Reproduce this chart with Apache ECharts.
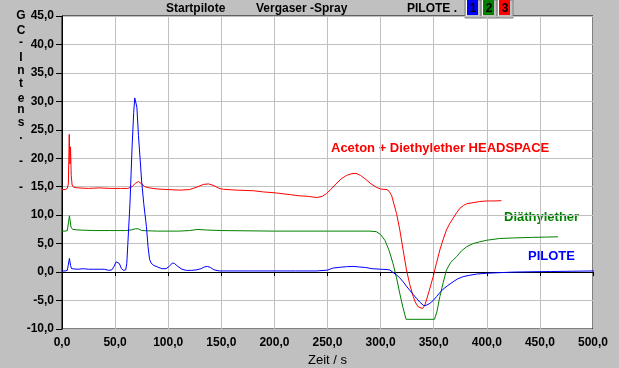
<!DOCTYPE html>
<html><head><meta charset="utf-8">
<script src="https://cdn.jsdelivr.net/npm/echarts@6/dist/echarts.min.js"></script>
<style>html,body{margin:0;padding:0;background:#c0c0c0;}#c{width:619px;height:368px;}</style>
</head><body><div id="c"></div>
<script>
// ---- data (time in s, GC intensity) ----
const xTicks = [0,50,100,150,200,250,300,350,400,450,500];
const yTicks = [-10,-5,0,5,10,15,20,25,30,35,40,45];
const seriesNames = ['PILOTE','Diäthylether','Aceton + Diethylether HEADSPACE'];
const pilote = [[0,0.2],[3,0.2],[5,0.3],[6,0.5],[7,2.4],[8,1.2],[9,0.6],[10,0.5],[15,0.5],[20,0.6],[25,0.5],[30,0.5],[35,0.5],[40,0.5],[44,0.3],[47,0.4],[49,1.0],[51,1.8],[52.5,2.1],[54,1.5],[56,0.6],[58,0.3],[60,0.4],[61,1.5],[62,5],[64,12],[66,22],[67.5,28],[68.5,30.6],[69.5,30.3],[70.5,29],[72,24],[73.5,20],[75,16],[77,12],[79.5,8],[81,4.5],[82.5,2.2],[84,1.6],[86,1.2],[90,0.9],[94,0.6],[98,0.6],[101,1.0],[104,1.6],[106,1.5],[109,1.0],[113,0.5],[117,0.3],[122,0.3],[127,0.4],[131,0.6],[134,0.9],[137,1.0],[140,0.8],[143,0.4],[148,0.2],[160,0.2],[180,0.2],[200,0.2],[220,0.2],[240,0.2],[250,0.35],[255,0.7],[262,0.85],[268,0.95],[274,1.0],[280,0.9],[286,0.8],[292,0.6],[300,0.5],[306,0.45],[308.7,0.36],[312,-0.1],[315,-0.5],[318,-1.0],[321.2,-1.7],[324,-2.4],[327.5,-3.2],[330.5,-3.9],[333.8,-4.6],[337,-5.3],[340.7,-5.9],[343.5,-5.8],[346.4,-5.5],[349.5,-5.0],[352.7,-4.3],[355.8,-3.6],[358.9,-3.0],[363,-2.4],[368.3,-1.7],[372.5,-1.2],[377.7,-0.8],[384,-0.55],[390.3,-0.35],[400,-0.2],[412,-0.1],[425,0.0],[440,0.05],[460,0.1],[480,0.15],[500,0.2],[516,0.25]];
const diaethylether = [[0,7.2],[3,7.2],[5,7.3],[6,7.6],[7,9.9],[7.8,8.8],[8.5,7.9],[10,7.5],[15,7.4],[30,7.3],[45,7.3],[60,7.3],[65,7.4],[69,7.6],[72,7.6],[75,7.3],[90,7.2],[110,7.2],[120,7.3],[128,7.5],[135,7.4],[150,7.3],[200,7.2],[250,7.2],[290,7.2],[296,7.1],[300,6.6],[304,5.6],[308,3.8],[311.7,1.5],[315,-1.0],[318,-3.7],[321,-6.2],[324,-8.3],[350.7,-8.3],[353,-7.0],[355.8,-4.3],[359,-1.8],[362,0.36],[366,1.7],[371.5,2.7],[376,3.7],[381,4.45],[387,5.0],[393,5.3],[400,5.6],[412,5.9],[425,6.0],[443,6.1],[455,6.15],[467,6.2]];
const headspace = [[0,14.5],[3,14.5],[5,14.7],[6,15.5],[6.8,24.2],[7.5,19],[8,22],[8.7,17],[9.5,15.3],[11,14.9],[15,14.8],[25,14.7],[35,14.8],[45,14.7],[55,14.7],[62,14.7],[66,15.0],[69,15.6],[72,15.9],[75,15.5],[78,15.0],[82,14.8],[90,14.6],[100,14.5],[111,14.4],[120,14.5],[128,15.0],[133,15.4],[138,15.5],[143,15.2],[148,14.7],[152,14.55],[165,14.4],[180,14.3],[189,14.1],[202,13.9],[215,13.6],[224,13.4],[232,13.3],[240,13.1],[245,13.3],[249,13.8],[253,14.5],[258,15.5],[263,16.4],[268,17.0],[273,17.3],[277,17.35],[281,17.0],[286,16.3],[291,15.5],[296,14.9],[300,14.6],[306,14.5],[308,14.2],[310.3,13.5],[315,10.3],[318.1,7.4],[321.2,3.9],[324.4,0.36],[327.5,-2.2],[330.7,-4.3],[333,-5.4],[335.4,-6.1],[339.5,-6.4],[341.5,-5.9],[343.2,-4.9],[346.5,-2.8],[349.5,-0.8],[352.5,1.5],[355.8,3.9],[359,5.8],[362,7.4],[365,8.5],[368.3,9.45],[371.5,10.4],[374.6,11.2],[378,11.7],[381,12.0],[387,12.2],[393.4,12.4],[400,12.5],[407,12.5],[413.8,12.55]];
const headerTexts = ['Startpilote','Vergaser -Spray','PILOTE .'];
const yTitleChars = ['G','C','-','I','n','t','e','n','s','.','-','-'];

const FONT = 'Liberation Sans, Arial, sans-serif';
const fmt = v => v.toFixed(1).replace('.', ',');
const chart = echarts.init(document.getElementById('c'), null, {renderer:'canvas'});

const yTitleY = [16,31,43,58,71,84,99,110,123,136,162,188];
const graphics = [];
yTitleChars.forEach((ch,i)=>graphics.push({type:'text',x:21,y:yTitleY[i],style:{text:ch,font:'bold 12px '+FONT,fill:'#000',textAlign:'center',textVerticalAlign:'middle'}}));
const hx=[166,256,407];
headerTexts.forEach((t,i)=>graphics.push({type:'text',x:hx[i],y:9,style:{text:t,font:'bold 12px '+FONT,fill:'#000',textVerticalAlign:'middle'}}));
// buttons
const btn=[{x:465,c:'#0000ff',t:'1'},{x:481,c:'#008000',t:'2'},{x:497,c:'#ff0000',t:'3'}];
btn.forEach(b=>{
  graphics.push({type:'rect',shape:{x:b.x,y:0,width:16,height:18},style:{fill:'#c0c0c0',stroke:'#808080',lineWidth:1}});
  graphics.push({type:'line',shape:{x1:b.x+1.5,y1:0,x2:b.x+1.5,y2:17},style:{stroke:'#ffffff',lineWidth:1}});
  graphics.push({type:'rect',shape:{x:b.x+2,y:0,width:11,height:15},style:{fill:b.c}});
  graphics.push({type:'text',x:b.x+8,y:9,style:{text:b.t,font:'bold 12px '+FONT,fill:'#000',textAlign:'center',textVerticalAlign:'middle'}});
});
graphics.push({type:'text',x:331,y:148,style:{text:'Aceton + Diethylether HEADSPACE',font:'bold 13px '+FONT,fill:'#ff0000',textVerticalAlign:'middle'}});
graphics.push({type:'text',x:504,y:217,style:{text:'Diäthylether',font:'bold 13px '+FONT,fill:'#008000',textVerticalAlign:'middle'}});
graphics.push({type:'text',x:528,y:256,style:{text:'PILOTE',font:'bold 13px '+FONT,fill:'#0000ff',textVerticalAlign:'middle'}});

const mk=(name,data,color)=>({name,type:'line',data,showSymbol:false,symbol:'none',clip:false,animation:false,lineStyle:{color,width:1},itemStyle:{color}});

chart.setOption({
  backgroundColor:'#c0c0c0',
  animation:false,
  grid:{left:62,top:16,width:531,height:313,containLabel:false,outerBoundsMode:'none',show:true,backgroundColor:'#ffffff',borderColor:'#000',borderWidth:1},
  xAxis:{type:'value',min:xTicks[0],max:xTicks[xTicks.length-1],interval:50,
    name:'Zeit / s',nameLocation:'middle',nameGap:24,nameTextStyle:{color:'#000',fontSize:13,fontFamily:FONT},
    axisLine:{show:true,lineStyle:{color:'#000',width:1}},
    axisTick:{show:true,length:4,lineStyle:{color:'#000'}},
    axisLabel:{formatter:fmt,color:'#000',fontWeight:'bold',fontSize:12,fontFamily:FONT,margin:8},
    splitLine:{show:true,lineStyle:{color:'#c0c0c0',width:1}}},
  yAxis:{type:'value',min:yTicks[0],max:yTicks[yTicks.length-1],interval:5,
    axisLine:{show:true,lineStyle:{color:'#000',width:1}},
    axisTick:{show:true,length:6,lineStyle:{color:'#000'}},
    axisLabel:{formatter:fmt,color:'#000',fontWeight:'bold',fontSize:12,fontFamily:FONT,margin:8},
    splitLine:{show:true,lineStyle:{color:'#c0c0c0',width:1}}},
  series:[mk(seriesNames[2],headspace,'#ff0000'),mk(seriesNames[1],diaethylether,'#008000'),mk(seriesNames[0],pilote,'#0000ff')],
  graphic:graphics
});
</script></body></html>
